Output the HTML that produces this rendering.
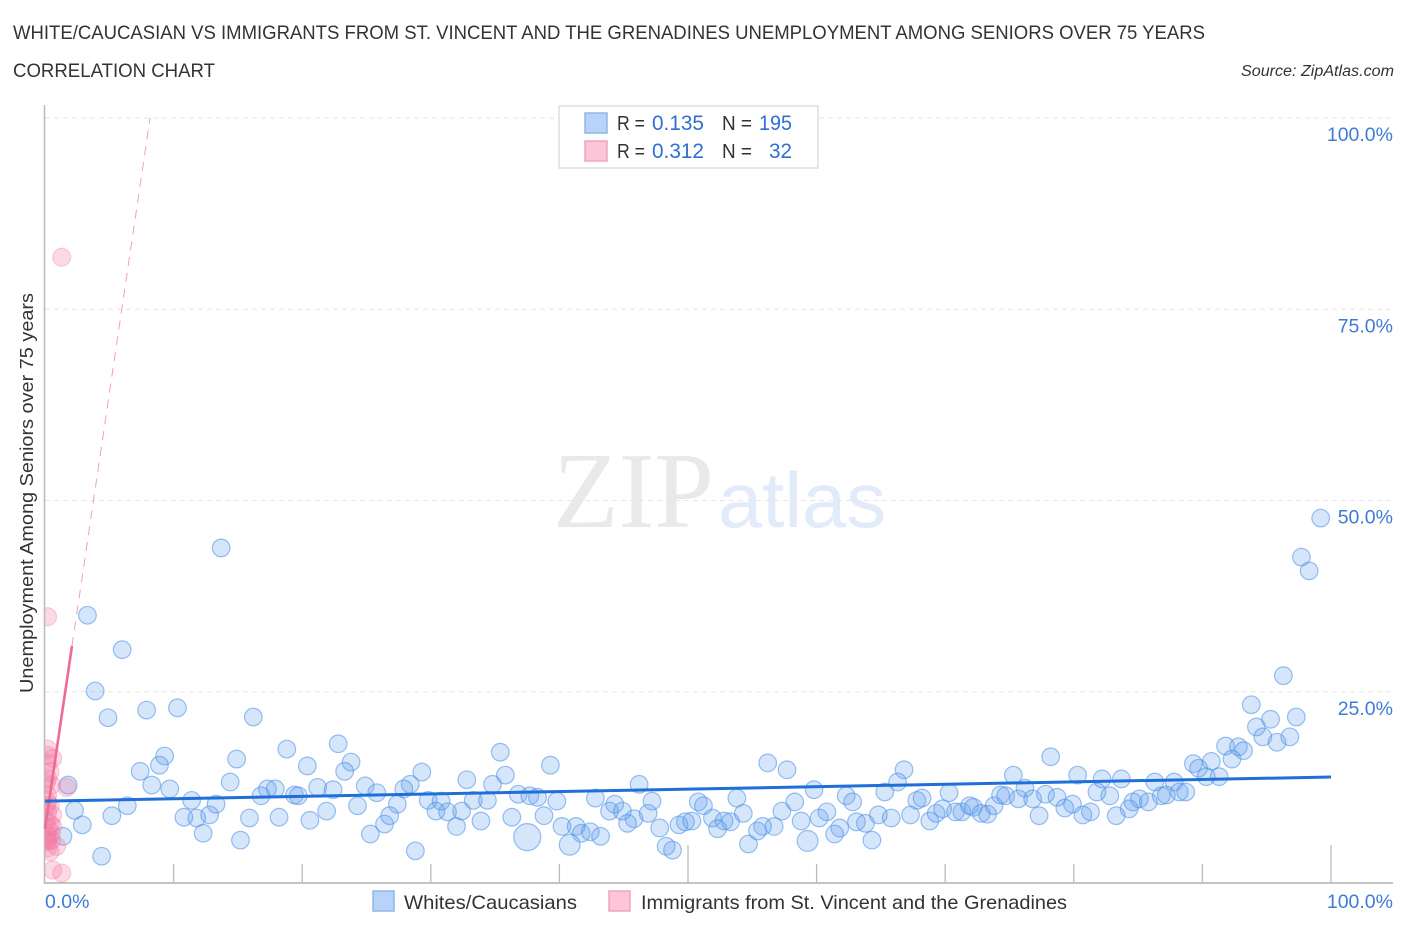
<!DOCTYPE html>
<html lang="en">
<head>
<meta charset="utf-8">
<title>White/Caucasian vs Immigrants from St. Vincent and the Grenadines Correlation Chart</title>
<style>
html,body{margin:0;padding:0;background:#fff;width:1406px;height:930px;overflow:hidden}
svg{display:block;font-family:"Liberation Sans",sans-serif}
</style>
</head>
<body>
<svg id="chart" xmlns="http://www.w3.org/2000/svg" width="1406" height="930" viewBox="0 0 1406 930">
  <defs><clipPath id="plotClip"><rect x="45" y="100" width="1360" height="783"/></clipPath></defs>
  <text x="13" y="39" font-size="19.5" fill="#333" textLength="1192" lengthAdjust="spacingAndGlyphs">WHITE/CAUCASIAN VS IMMIGRANTS FROM ST. VINCENT AND THE GRENADINES UNEMPLOYMENT AMONG SENIORS OVER 75 YEARS</text>
  <text x="13" y="77" font-size="19.5" fill="#333" textLength="202" lengthAdjust="spacingAndGlyphs">CORRELATION CHART</text>
  <text x="1394" y="76" font-size="15.5" font-style="italic" fill="#333" text-anchor="end" textLength="153" lengthAdjust="spacingAndGlyphs">Source: ZipAtlas.com</text>

  <g>
    <text x="553" y="527" font-family="'Liberation Serif',serif" font-size="108" fill="#e9e9e9" textLength="161" lengthAdjust="spacingAndGlyphs">ZIP</text>
    <text x="718" y="527" font-size="78" fill="#e2ebf9" textLength="168" lengthAdjust="spacingAndGlyphs">atlas</text>
  </g>

  <g id="grid"></g>
  <g id="axes"></g>
  <g id="whites"></g>
  <g id="immigrants" clip-path="url(#plotClip)"></g>
  <g id="trends"></g>
  <g id="yLabels"></g>
  <g id="xLabels"></g>

  <text transform="translate(33,493) rotate(-90)" font-size="18.5" fill="#333" text-anchor="middle" textLength="400" lengthAdjust="spacingAndGlyphs">Unemployment Among Seniors over 75 years</text>

  <g>
    <rect x="559" y="106" width="259" height="62" fill="#fff" stroke="#ddd" stroke-width="1.5"/>
    <rect x="585" y="113" width="22" height="20" fill="#b9d3f8" stroke="#8db6ec" stroke-width="1.5"/>
    <rect x="585" y="141" width="22" height="20" fill="#fcc5d8" stroke="#f2a4bf" stroke-width="1.5"/>
    <text x="617" y="130" font-size="20" fill="#333" textLength="28" lengthAdjust="spacingAndGlyphs">R =</text>
    <text x="652" y="130" font-size="21" fill="#2e6fd1" textLength="52" lengthAdjust="spacingAndGlyphs">0.135</text>
    <text x="722" y="130" font-size="20" fill="#333" textLength="30" lengthAdjust="spacingAndGlyphs">N =</text>
    <text x="792" y="130" font-size="21" fill="#2e6fd1" text-anchor="end" textLength="33" lengthAdjust="spacingAndGlyphs">195</text>
    <text x="617" y="158" font-size="20" fill="#333" textLength="28" lengthAdjust="spacingAndGlyphs">R =</text>
    <text x="652" y="158" font-size="21" fill="#2e6fd1" textLength="52" lengthAdjust="spacingAndGlyphs">0.312</text>
    <text x="722" y="158" font-size="20" fill="#333" textLength="30" lengthAdjust="spacingAndGlyphs">N =</text>
    <text x="792" y="158" font-size="21" fill="#2e6fd1" text-anchor="end" textLength="23" lengthAdjust="spacingAndGlyphs">32</text>
  </g>

  <g>
    <rect x="373" y="891" width="21" height="20" fill="#b9d3f8" stroke="#8db6ec" stroke-width="1.5"/>
    <text x="404" y="909" font-size="19.5" fill="#333" textLength="173" lengthAdjust="spacingAndGlyphs">Whites/Caucasians</text>
    <rect x="609" y="891" width="21" height="20" fill="#fcc5d8" stroke="#f2a4bf" stroke-width="1.5"/>
    <text x="641" y="909" font-size="19.5" fill="#333" textLength="426" lengthAdjust="spacingAndGlyphs">Immigrants from St. Vincent and the Grenadines</text>
  </g>
</svg>
<script>
const whitesX = [9.3,8.9,7.4,8.3,9.7,14.9,18.8,20.4,14.4,1.8,17.3,17.9,16.8,19.4,19.7,11.4,13.3,6.4,2.3,2.9,5.2,10.8,11.8,12.8,15.9,18.2,12.3,15.2,1.4,4.4,20.6,3.3,6.0,3.9,4.9,7.9,10.3,16.2,13.7,22.8,23.8,23.3,35.4,39.3,29.3,35.8,34.8,28.4,27.9,32.8,21.2,22.4,24.9,25.8,36.8,37.7,38.3,39.8,46.2,42.8,44.3,43.9,44.9,45.8,45.3,47.2,46.9,47.8,48.3,48.8,50.8,51.2,49.3,49.8,50.3,51.9,53.8,54.3,52.8,53.3,52.3,54.7,29.8,30.8,33.3,34.4,27.4,24.3,21.9,30.4,31.3,32.4,26.8,26.4,25.3,33.9,32.0,36.3,38.8,37.5,28.8,40.2,41.3,41.7,42.4,43.2,40.8,56.2,57.7,66.8,66.3,65.3,59.8,62.3,62.8,58.3,57.3,60.8,60.2,58.8,56.7,55.8,55.4,59.3,61.8,61.4,64.3,63.1,63.8,64.8,65.8,67.3,67.8,68.2,70.3,68.8,69.3,69.8,70.8,71.3,71.9,72.2,72.8,73.3,73.8,74.3,74.7,75.3,75.7,76.2,76.8,77.8,78.7,78.2,80.3,79.9,79.3,81.3,80.7,77.3,81.8,82.2,83.7,82.8,83.3,84.3,84.6,85.1,85.8,86.3,86.8,87.2,87.8,88.2,88.7,89.3,89.7,99.2,97.7,98.3,96.3,93.8,95.3,94.2,97.3,94.7,95.8,96.8,91.8,92.8,93.2,92.3,90.7,90.3,91.3];
const whitesY = [16.6,15.4,14.6,12.8,12.3,16.2,17.5,15.3,13.2,12.8,12.3,12.3,11.4,11.5,11.4,10.8,10.3,10.1,9.5,7.6,8.8,8.6,8.5,8.9,8.5,8.6,6.5,5.6,6.1,3.5,8.2,35.0,30.5,25.1,21.6,22.6,22.9,21.7,43.8,18.2,15.8,14.6,17.1,15.4,14.5,14.1,12.9,12.9,12.3,13.5,12.5,12.2,12.7,11.8,11.6,11.4,11.2,10.7,12.9,11.1,10.3,9.4,9.4,8.4,7.8,10.7,9.1,7.2,4.8,4.3,10.6,10.1,7.6,8.0,8.1,8.5,11.1,9.1,8.1,8.0,7.1,5.1,10.8,10.7,10.8,10.8,10.3,10.1,9.4,9.4,9.3,9.4,8.8,7.7,6.4,8.1,7.4,8.6,8.8,6.0,4.2,7.4,7.4,6.5,6.7,6.1,5.0,15.7,14.8,14.8,13.2,11.9,12.2,11.4,10.6,10.6,9.4,9.3,8.5,8.1,7.4,7.4,6.8,5.5,7.2,6.4,5.6,8.0,7.8,8.9,8.5,8.9,10.8,11.1,11.8,8.1,9.1,9.7,9.3,9.3,10.1,9.9,9.1,9.0,10.1,11.5,11.4,14.1,11.0,12.4,11.0,11.6,11.2,16.5,14.1,10.3,9.8,9.3,8.9,8.8,11.9,13.6,13.6,11.4,8.8,9.7,10.6,11.0,10.6,13.2,11.4,11.5,13.2,11.9,11.9,15.6,15.0,47.7,42.6,40.8,27.1,23.3,21.4,20.4,21.7,19.1,18.4,19.1,17.9,17.8,17.3,16.2,15.9,13.9,13.9];
const whitesLarge = [37.5, 59.3, 40.8];
const immigrantsX = [1.3,0.2,0.2,0.2,0.6,0.2,0.4,0.2,0.1,0.5,1.7,0.2,0.2,0.4,0.1,0.2,0.6,0.1,0.4,0.6,0.2,0.1,0.3,0.5,0.5,0.1,0.2,0.9,0.2,0.4,0.6,1.3];
const immigrantsY = [81.8,34.8,17.5,16.7,16.3,15.6,14.5,13.7,13.1,12.8,12.5,11.5,10.6,10.1,10.1,9.3,8.9,8.2,7.7,7.4,7.2,6.5,6.1,6.5,5.6,5.6,5.4,4.8,4.6,4.1,1.7,1.3];
const whitesTrendX = [0, 100];
const whitesTrendY = [10.7, 13.85];
const immigrantsSolidX = [0, 2.1];
const immigrantsSolidY = [7.1, 31.0];
const immigrantsDashX = [2.1, 8.17];
const immigrantsDashY = [31.0, 100];
const yTicks = [25, 50, 75, 100];
const yTickLabels = ["25.0%", "50.0%", "75.0%", "100.0%"];
const xTicks = [0, 10, 20, 30, 40, 50, 60, 70, 80, 90, 100];
const xEndTicks = [0, 100];
const xEndLabels = ["0.0%", "100.0%"];

const NS = 'http://www.w3.org/2000/svg';
const PLOT_LEFT = 45, PLOT_RIGHT = 1331, PLOT_TOP = 118, PLOT_BOTTOM = 883, FRAME_RIGHT = 1393;
function xScale(v) { return PLOT_LEFT + v / 100 * (PLOT_RIGHT - PLOT_LEFT); }
function yScale(v) { return PLOT_BOTTOM - v / 100 * (PLOT_BOTTOM - PLOT_TOP); }
function make(tag, parent, attrs) {
  const el = document.createElementNS(NS, tag);
  for (const k in attrs) el.setAttribute(k, attrs[k]);
  parent.appendChild(el);
  return el;
}

const grid = document.getElementById('grid');
yTicks.forEach(function (t) {
  const line = make('line', grid, {x1: PLOT_LEFT, x2: FRAME_RIGHT, y1: yScale(t), y2: yScale(t), stroke: '#e6e6e6', 'stroke-width': 1, 'stroke-dasharray': '5 4'});
  
  
});

const axes = document.getElementById('axes');
const yAxisLine = make('line', axes, {x1: 44.5, x2: 44.5, y1: 105, y2: PLOT_BOTTOM + 1, stroke: '#bdbdbd', 'stroke-width': 1.6});


const xAxisLine = make('line', axes, {x1: 44, x2: FRAME_RIGHT, y1: PLOT_BOTTOM, y2: PLOT_BOTTOM, stroke: '#c4c4c4', 'stroke-width': 2});


xTicks.slice(1).forEach(function (t) {
  const isMajor = t % 50 === 0;
  const tick = make('line', axes, {x1: xScale(t), x2: xScale(t), y1: isMajor ? 845 : 864, y2: PLOT_BOTTOM, stroke: '#bcbcbc', 'stroke-width': 1.3});
  
  
});

const whitesGroup = document.getElementById('whites');
whitesX.forEach(function (xv, i) {
  const big = whitesLarge.indexOf(xv) >= 0;
  const r = xv === whitesLarge[0] ? 13.5 : (big ? 10.4 : 8.8);
  const c = make('circle', whitesGroup, {cx: xScale(xv), cy: yScale(whitesY[i]), r: r, fill: 'rgba(100,160,238,0.27)', stroke: 'rgba(72,142,232,0.55)', 'stroke-width': 1.2});
  
  
});

const immigrantsGroup = document.getElementById('immigrants');
immigrantsX.forEach(function (xv, i) {
  const c = make('circle', immigrantsGroup, {cx: xScale(xv), cy: yScale(immigrantsY[i]), r: 9, fill: 'rgba(245,120,162,0.28)', stroke: 'rgba(240,125,165,0.35)', 'stroke-width': 1.2});
  
  
});

const trends = document.getElementById('trends');
const dashTrend = make('line', trends, {x1: xScale(immigrantsDashX[0]), y1: yScale(immigrantsDashY[0]), x2: xScale(immigrantsDashX[1]), y2: yScale(immigrantsDashY[1]), stroke: '#f2a0ba', 'stroke-width': 1, 'stroke-dasharray': '9 7'});


const pinkTrend = make('line', trends, {x1: xScale(immigrantsSolidX[0]), y1: yScale(immigrantsSolidY[0]), x2: xScale(immigrantsSolidX[1]), y2: yScale(immigrantsSolidY[1]), stroke: '#ee6b95', 'stroke-width': 2.6});


const blueTrend = make('line', trends, {x1: xScale(whitesTrendX[0]), y1: yScale(whitesTrendY[0]), x2: xScale(whitesTrendX[1]), y2: yScale(whitesTrendY[1]), stroke: '#1f6fd9', 'stroke-width': 3});



const yLabels = document.getElementById('yLabels');
yTicks.forEach(function (t, i) {
  const label = make('text', yLabels, {x: FRAME_RIGHT, y: yScale(t) + 23, 'font-size': 19.5, fill: '#3f7bd6', 'text-anchor': 'end'});
  label.textContent = yTickLabels[i];
  
  
});

const xLabels = document.getElementById('xLabels');
xEndTicks.forEach(function (t, i) {
  const label = make('text', xLabels, {x: i === 0 ? xScale(t) : FRAME_RIGHT, y: 908, 'font-size': 19.5, fill: '#3f7bd6', 'text-anchor': i === 0 ? 'start' : 'end'});
  label.textContent = xEndLabels[i];
  
  
});
</script>
</body>
</html>
